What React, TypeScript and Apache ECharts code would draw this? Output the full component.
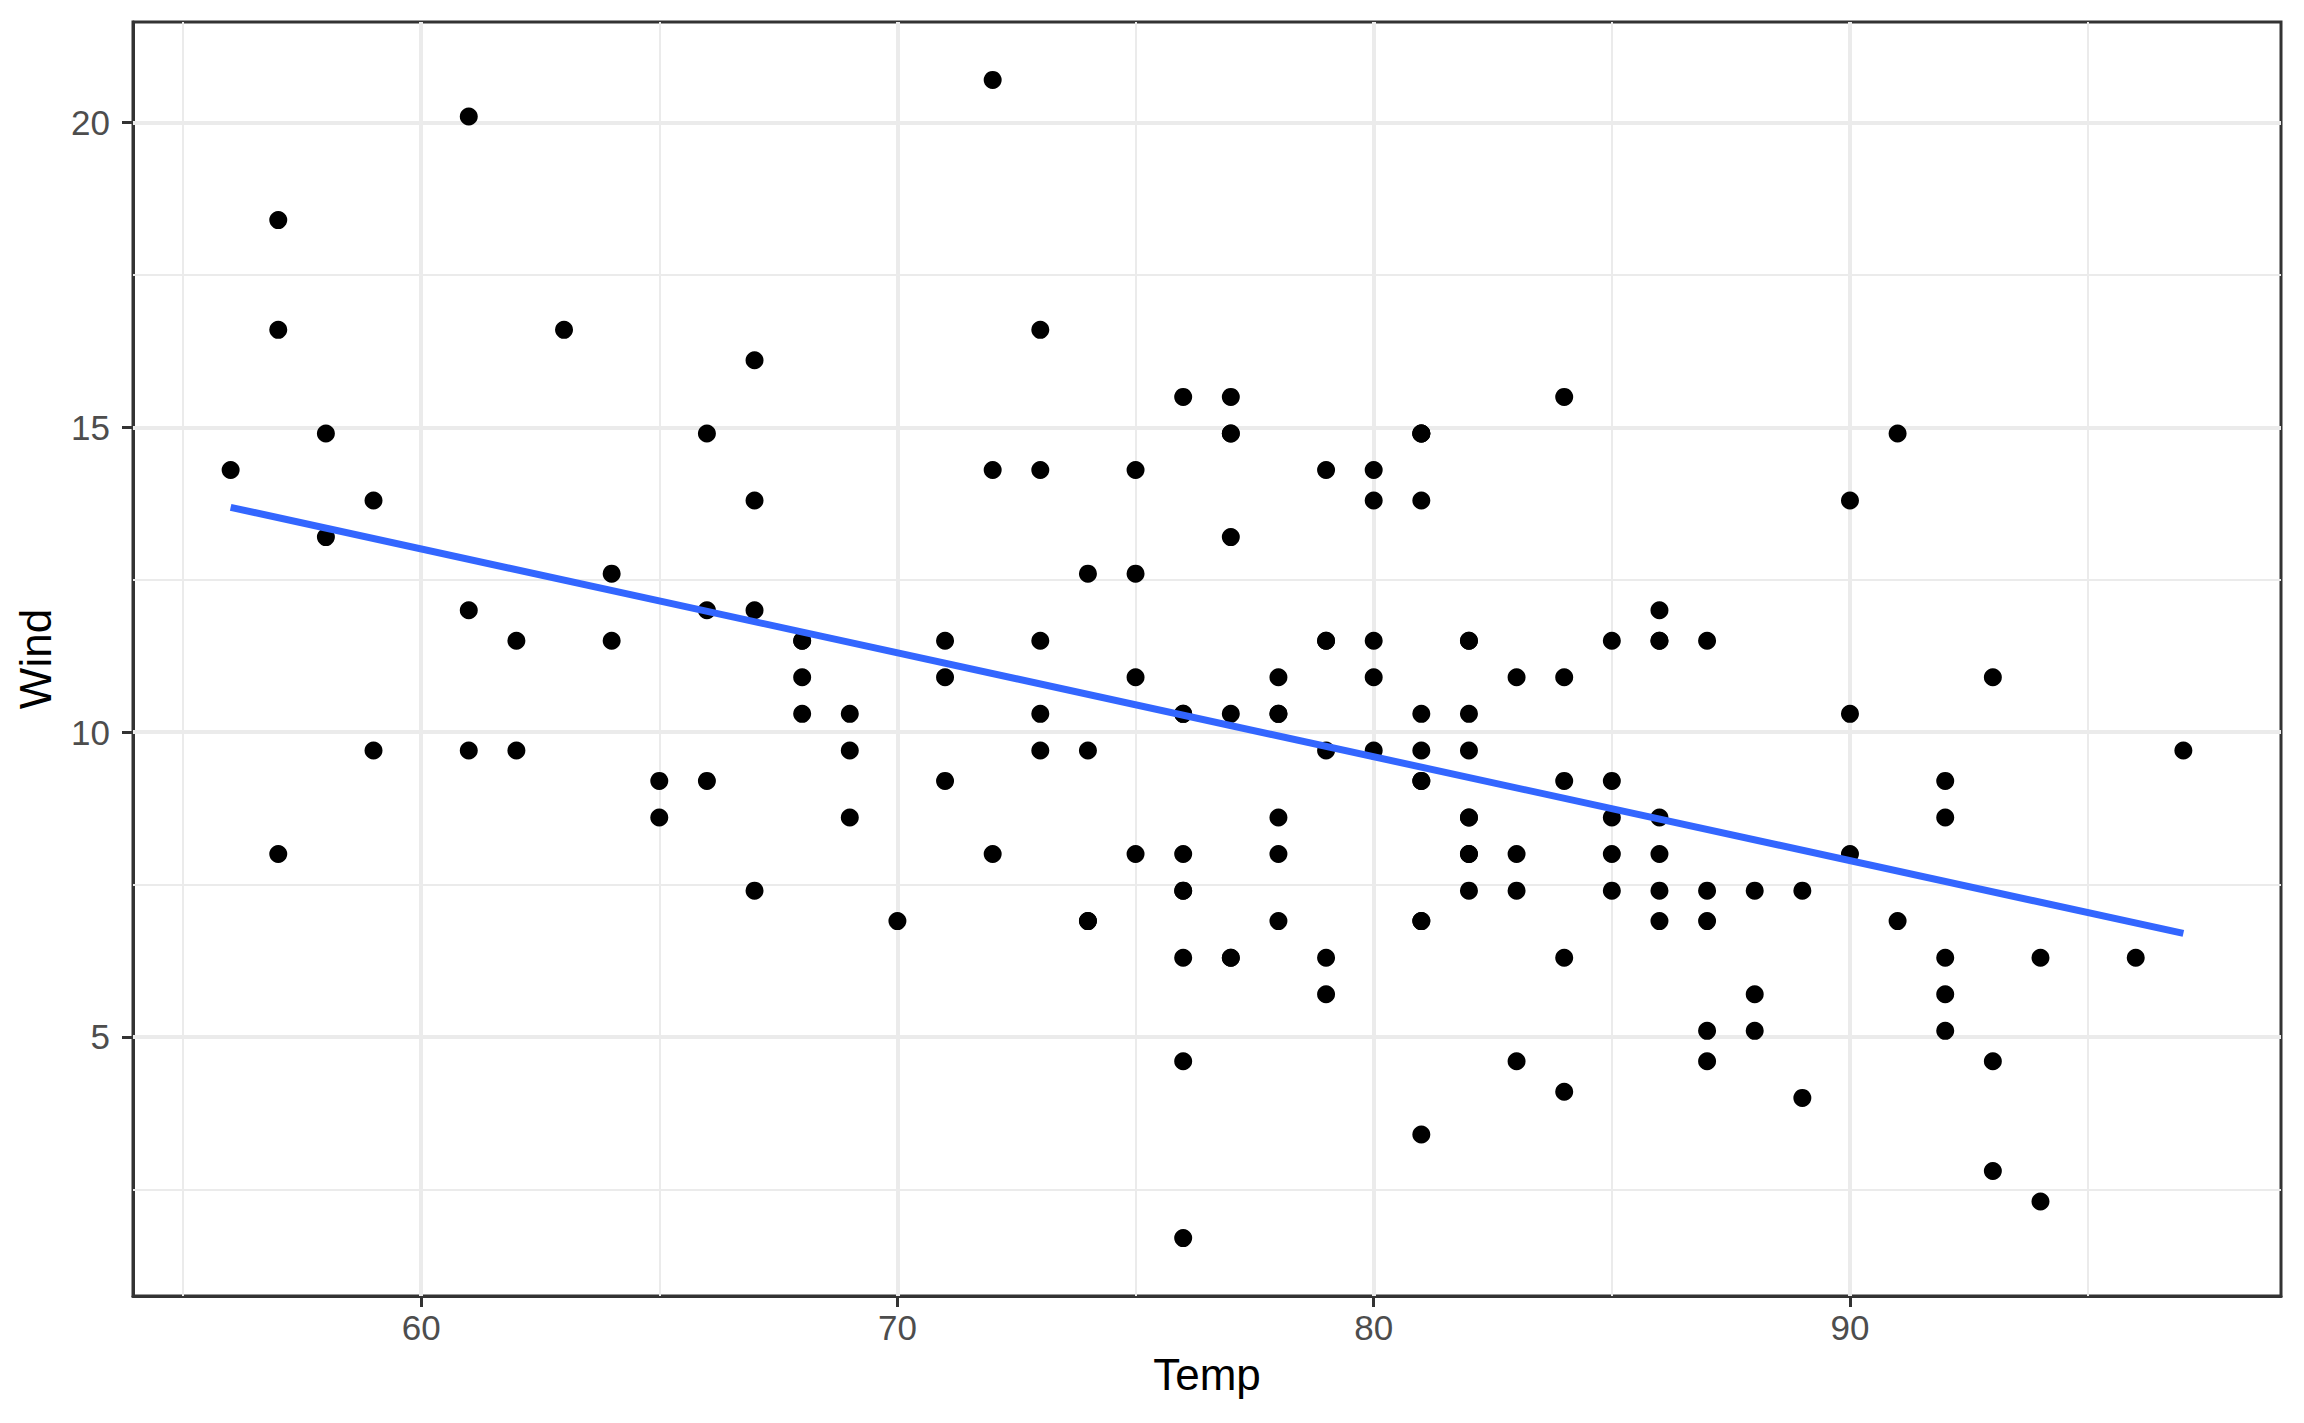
import React, { useEffect, useRef } from "react";
import * as echarts from "echarts";

// airquality: Temp (x) and Wind (y)
const temp = [
  67, 72, 74, 62, 56, 66, 65, 59, 61, 69,
  74, 69, 66, 68, 58, 64, 66, 57, 68, 62,
  59, 73, 61, 61, 57, 58, 57, 67, 81, 79,
  76, 78, 74, 67, 84, 85, 79, 82, 87, 90,
  87, 93, 92, 82, 80, 79, 77, 72, 65, 73,
  76, 77, 76, 76, 76, 75, 78, 73, 80, 77,
  83, 84, 85, 81, 84, 83, 83, 88, 92, 92,
  89, 82, 73, 81, 91, 80, 81, 82, 84, 87,
  85, 74, 81, 82, 86, 85, 82, 86, 88, 86,
  83, 81, 81, 81, 82, 86, 85, 87, 89, 90,
  90, 92, 86, 86, 82, 80, 79, 77, 79, 76,
  78, 78, 77, 72, 75, 79, 81, 86, 88, 97,
  94, 96, 94, 91, 92, 93, 93, 87, 84, 80,
  78, 75, 73, 81, 76, 77, 71, 71, 78, 67,
  76, 68, 82, 64, 71, 81, 69, 63, 70, 77,
  75, 76, 68,
];
const wind = [
  7.4, 8.0, 12.6, 11.5, 14.3, 14.9, 8.6, 13.8, 20.1, 8.6,
  6.9, 9.7, 9.2, 10.9, 13.2, 11.5, 12.0, 18.4, 11.5, 9.7,
  9.7, 16.6, 9.7, 12.0, 16.6, 14.9, 8.0, 12.0, 14.9, 5.7,
  7.4, 8.6, 9.7, 16.1, 9.2, 8.6, 14.3, 9.7, 6.9, 13.8,
  11.5, 10.9, 9.2, 8.0, 13.8, 11.5, 14.9, 20.7, 9.2, 11.5,
  10.3, 6.3, 1.7, 4.6, 6.3, 8.0, 8.0, 10.3, 11.5, 14.9,
  8.0, 4.1, 9.2, 9.2, 10.9, 4.6, 10.9, 5.1, 6.3, 5.7,
  7.4, 8.6, 14.3, 14.9, 14.9, 14.3, 6.9, 10.3, 6.3, 5.1,
  11.5, 6.9, 9.7, 11.5, 8.6, 8.0, 8.6, 12.0, 7.4, 7.4,
  7.4, 9.2, 6.9, 13.8, 7.4, 6.9, 7.4, 4.6, 4.0, 10.3,
  8.0, 8.6, 11.5, 11.5, 11.5, 9.7, 11.5, 10.3, 6.3, 7.4,
  10.9, 10.3, 15.5, 14.3, 12.6, 9.7, 3.4, 8.0, 5.7, 9.7,
  2.3, 6.3, 6.3, 6.9, 5.1, 2.8, 4.6, 7.4, 15.5, 10.9,
  10.3, 10.9, 9.7, 14.9, 15.5, 6.3, 10.9, 11.5, 6.9, 13.8,
  10.3, 10.3, 8.0, 12.6, 9.2, 10.3, 10.3, 16.6, 6.9, 13.2,
  14.3, 8.0, 11.5,
];

const xMajor = [60, 70, 80, 90];
const xMinor = [55, 65, 75, 85, 95];
const yMajor = [5, 10, 15, 20];
const yMinor = [2.5, 7.5, 12.5, 17.5];
const xRange = [53.95, 99.05];
const yRange = [0.75, 21.65];

const FONT = "'Liberation Sans', Arial, Helvetica, sans-serif";

function fitLine(): number[][] {
  const n = temp.length;
  const mx = temp.reduce((a, b) => a + b, 0) / n;
  const my = wind.reduce((a, b) => a + b, 0) / n;
  let sxy = 0;
  let sxx = 0;
  for (let i = 0; i < n; i++) {
    sxy += (temp[i] - mx) * (wind[i] - my);
    sxx += (temp[i] - mx) * (temp[i] - mx);
  }
  const b = sxy / sxx;
  const a = my - b * mx;
  const x0 = Math.min(...temp);
  const x1 = Math.max(...temp);
  return [
    [x0, a + b * x0],
    [x1, a + b * x1],
  ];
}

export default function App() {
  const ref = useRef<HTMLDivElement>(null);
  useEffect(() => {
    if (!ref.current) return;
    const chart = echarts.init(ref.current, null, { renderer: "svg" });
    const gridLines = (xs: number[], ys: number[], width: number) => ({
      silent: true,
      symbol: ["none", "none"],
      label: { show: false },
      emphasis: { disabled: true },
      lineStyle: { color: "#EBEBEB", width, type: "solid", opacity: 1 },
      data: [
        ...xs.map((v) => ({ xAxis: v })),
        ...ys.map((v) => ({ yAxis: v })),
      ],
    });
    chart.setOption({
      animation: false,
      backgroundColor: "#FFFFFF",
      textStyle: { fontFamily: FONT },
      grid: {
        left: 133,
        top: 22,
        right: 23,
        bottom: 127,
        show: true,
        borderColor: "#333333",
        borderWidth: 3,
        backgroundColor: "transparent",
        containLabel: false,
        outerBoundsMode: "none",
      },
      xAxis: {
        type: "value",
        min: xRange[0],
        max: xRange[1],
        name: "Temp",
        nameLocation: "middle",
        nameGap: 56,
        nameTextStyle: { fontSize: 44, color: "#000000", fontFamily: FONT },
        axisLine: { show: true, lineStyle: { color: "#333333", width: 3 } },
        axisTick: {
          show: true,
          customValues: xMajor,
          length: 11,
          lineStyle: { color: "#333333", width: 3 },
        },
        axisLabel: {
          customValues: xMajor,
          fontSize: 35,
          color: "#4D4D4D",
          margin: 14,
          fontFamily: FONT,
        },
        splitLine: { show: false },
        minorSplitLine: { show: false },
      },
      yAxis: {
        type: "value",
        min: yRange[0],
        max: yRange[1],
        name: "Wind",
        nameLocation: "middle",
        nameGap: 76,
        nameRotate: 90,
        nameTextStyle: { fontSize: 44, color: "#000000", fontFamily: FONT },
        axisLine: { show: true, lineStyle: { color: "#333333", width: 3 } },
        axisTick: {
          show: true,
          customValues: yMajor,
          length: 11,
          lineStyle: { color: "#333333", width: 3 },
        },
        axisLabel: {
          customValues: yMajor,
          fontSize: 35,
          color: "#4D4D4D",
          margin: 23,
          fontFamily: FONT,
        },
        splitLine: { show: false },
        minorSplitLine: { show: false },
      },
      series: [
        {
          type: "line",
          name: "minorGrid",
          data: [],
          z: 1,
          markLine: gridLines(xMinor, yMinor, 2),
        },
        {
          type: "line",
          name: "majorGrid",
          data: [],
          z: 1,
          markLine: gridLines(xMajor, yMajor, 4),
        },
        {
          type: "scatter",
          name: "points",
          data: temp.map((t, i) => [t, wind[i]]),
          symbol: "circle",
          symbolSize: 18,
          itemStyle: { color: "#000000", opacity: 1 },
          z: 10,
          silent: true,
        },
        {
          type: "line",
          name: "fit",
          data: fitLine(),
          showSymbol: false,
          symbol: "none",
          lineStyle: { color: "#3366FF", width: 7, opacity: 1 },
          z: 11,
          silent: true,
        },
      ],
    });
    return () => chart.dispose();
  }, []);
  return (
    <div
      ref={ref}
      style={{ position: "absolute", left: 0, top: 0, width: 2304, height: 1423 }}
    />
  );
}
